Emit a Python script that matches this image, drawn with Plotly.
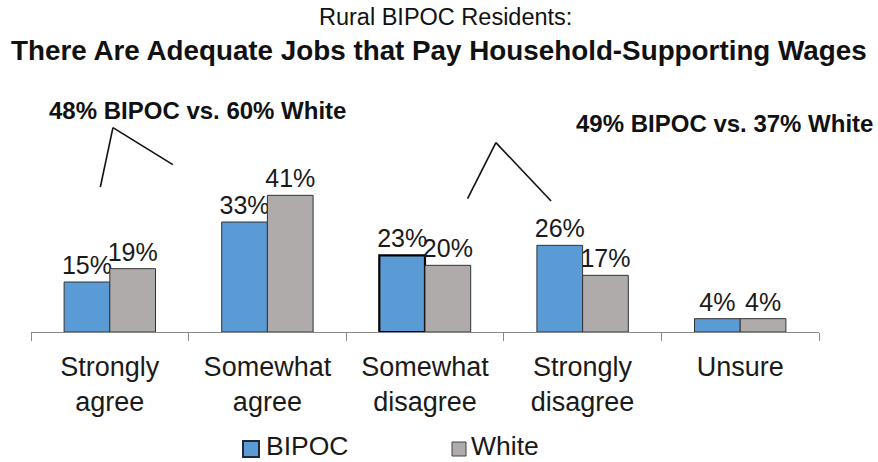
import plotly.graph_objects as go

categories = ["Strongly<br>agree", "Somewhat<br>agree", "Somewhat<br>disagree",
              "Strongly<br>disagree", "Unsure"]
bipoc = [15, 33, 23, 26, 4]
white = [19, 41, 20, 17, 4]
series_names = ["BIPOC", "White"]

FONT = "Arial, Liberation Sans, sans-serif"
BLUE = "#5B9BD5"
GRAY = "#AFABAB"

fig = go.Figure()
fig.add_trace(go.Bar(
    name=series_names[0], x=categories, y=bipoc, showlegend=False,
    marker=dict(color=BLUE,
                line=dict(color=["#333333", "#333333", "#000000", "#333333", "#333333"],
                          width=[1, 1, 2.2, 1, 1])),
    text=[f"{v}%" for v in bipoc], textposition="outside", constraintext="none",
    textfont=dict(size=25, color="#1a1a1a", family=FONT), cliponaxis=False,
))
fig.add_trace(go.Bar(
    name=series_names[1], x=categories, y=white, showlegend=False,
    marker=dict(color=GRAY, line=dict(color="#333333", width=1)),
    text=[f"{v}%" for v in white], textposition="outside", constraintext="none",
    textfont=dict(size=25, color="#1a1a1a", family=FONT), cliponaxis=False,
))

# bracket lines grouping the agree / disagree pairs
brackets = [
    [(-0.06, 43.5), (0.02, 61.3), (0.40, 50.2)],
    [(2.27, 40.0), (2.45, 56.8), (2.80, 39.3)],
]
for pts in brackets:
    for (x0, y0), (x1, y1) in zip(pts[:-1], pts[1:]):
        fig.add_shape(type="line", xref="x", yref="y", x0=x0, y0=y0, x1=x1, y1=y1,
                      line=dict(color="#111111", width=1.6))

W, H = 878, 462
plot_left, plot_right = 31, 819
plot_top, plot_bottom = 82, 332


def px_x(p):
    return (p - plot_left) / (plot_right - plot_left)


def px_y(p):
    return (plot_bottom - p) / (plot_bottom - plot_top)


annotations = [
    dict(text="Rural BIPOC Residents:", x=445, y=17, size=23.5),
    dict(text="<b>There Are Adequate Jobs that Pay Household-Supporting Wages</b>",
         x=439, y=50, size=27.8),
    dict(text="<b>48% BIPOC vs. 60% White</b>", x=197, y=110, size=24),
    dict(text="<b>49% BIPOC vs. 37% White</b>", x=724, y=123, size=24),
]
for a in annotations:
    fig.add_annotation(
        text=a["text"], xref="paper", yref="paper", x=px_x(a["x"]), y=px_y(a["y"]),
        xanchor="center", yanchor="middle", showarrow=False,
        font=dict(size=a["size"], color="#111111", family=FONT),
    )

# legend: square swatch followed by the series name
legend_items = [
    dict(name=series_names[0], color=BLUE, edge="#1f2a36", ew=2, x0=243, x1=259, y0=441, y1=457, tx=264),
    dict(name=series_names[1], color=GRAY, edge="#444444", ew=1, x0=452, x1=466, y0=442, y1=456, tx=469),
]
for it in legend_items:
    fig.add_shape(type="rect", xref="paper", yref="paper",
                  x0=px_x(it["x0"]), x1=px_x(it["x1"]),
                  y0=px_y(it["y1"]), y1=px_y(it["y0"]),
                  fillcolor=it["color"], line=dict(color=it["edge"], width=it["ew"]))
    fig.add_annotation(text=it["name"], xref="paper", yref="paper",
                       x=px_x(it["tx"]), y=px_y(446), xanchor="left", yanchor="middle",
                       showarrow=False,
                       font=dict(size=26.5, color="#1a1a1a", family=FONT))

fig.update_layout(
    width=W, height=H,
    margin=dict(l=plot_left, r=W - plot_right, t=plot_top, b=H - plot_bottom,
                pad=0, autoexpand=False),
    paper_bgcolor="white", plot_bgcolor="white",
    barmode="group", bargap=0.42, bargroupgap=0,
    font=dict(family=FONT, color="#1a1a1a"),
    showlegend=False,
    xaxis=dict(showline=True, linecolor="#888888", linewidth=1.2, automargin=False,
               ticks="outside", tickson="boundaries", ticklen=8, tickcolor="#888888",
               ticklabelstandoff=10,
               tickfont=dict(size=27, color="#1a1a1a", family=FONT),
               showgrid=False, zeroline=False),
    yaxis=dict(range=[0, 75], visible=False, showgrid=False, zeroline=False),
)

fig.write_html("out.html")
